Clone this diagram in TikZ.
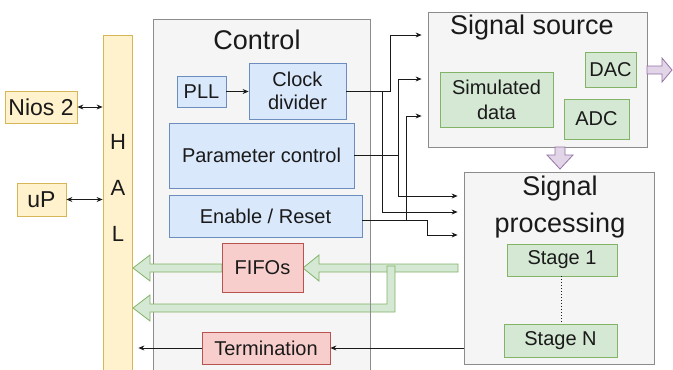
\documentclass[tikz,border=0pt]{standalone}
\usepackage{fontspec}
\setmainfont{Liberation Sans}
\usetikzlibrary{arrows.meta}
\definecolor{blueF}{HTML}{DAE8FC}\definecolor{blueD}{HTML}{6C8EBF}
\definecolor{greenF}{HTML}{D5E8D4}\definecolor{greenD}{HTML}{82B366}
\definecolor{redF}{HTML}{F8CECC}\definecolor{redD}{HTML}{B85450}
\definecolor{yelF}{HTML}{FFF2CC}\definecolor{yelD}{HTML}{D6B656}
\definecolor{grayF}{HTML}{F5F5F5}\definecolor{grayD}{HTML}{8C8C8C}
\definecolor{purF}{HTML}{E1D5E7}\definecolor{purD}{HTML}{9673A6}
\definecolor{ink}{HTML}{1A1A1A}
\tikzset{
  box/.style={draw, line width=0.8pt, inner sep=0pt, align=center, text=ink,
    font=\fontsize{20}{23}\selectfont},
  bluebox/.style={box, fill=blueF, draw=blueD},
  greenbox/.style={box, fill=greenF, draw=greenD},
  redbox/.style={box, fill=redF, draw=redD},
  yelbox/.style={box, fill=yelF, draw=yelD},
  container/.style={box, fill=grayF, draw=grayD},
  title/.style={text=ink, inner sep=0pt, align=center, font=\fontsize{27}{37}\selectfont},
  fatg/.style={fill=greenF, draw=greenD, line width=0.8pt, line join=miter},
  fatp/.style={fill=purF, draw=purD, line width=0.8pt, line join=miter},
  wire/.style={draw=ink, line width=0.8pt, -{Stealth[length=6pt,width=5pt]}},
  dwire/.style={draw=ink, line width=0.8pt, {Stealth[length=6pt,width=5pt]}-{Stealth[length=6pt,width=5pt]}},
}
\begin{document}
\begin{tikzpicture}[x=1pt, y=-1pt]
\useasboundingbox (0,0) rectangle (673,370);
\clip (0,0) rectangle (673,370);
\fill[white] (0,0) rectangle (673,370);

% containers
\node[container, minimum width=217pt, minimum height=361pt] (ctrl) at (261.5,199.5) {};
\node[title] (ctrlT) at (257,40) {Control};
\node[container, minimum width=219pt, minimum height=135pt] (src) at (537.5,79.5) {};
\node[title] (srcT) at (532,28) {Signal source};
\node[container, minimum width=190pt, minimum height=192pt] (proc) at (559,268) {};
\node[title] (procT) at (560,207) {Signal\\processing};

% HAL column
\node[yelbox, minimum width=29pt, minimum height=345pt] (hal) at (117.5,207.5) {};
\node[box, draw=none, font=\fontsize{22}{46}\selectfont] (halT) at (118,188) {H\\A\\L};

% host side
\node[yelbox, minimum width=72pt, minimum height=32pt, font=\fontsize{23}{26}\selectfont] (nios) at (41,107) {Nios 2};
\node[yelbox, minimum width=49pt, minimum height=33pt, font=\fontsize{23}{26}\selectfont] (up) at (41.5,199.5) {uP};
\draw[dwire] (nios.east) -- (nios.east -| hal.west);
\draw[dwire] (up.east) -- (up.east -| hal.west);

% wide data arrows
\coordinate (fifoIn) at (303,268);
\coordinate (halIn1) at (133,268);
\coordinate (halIn2) at (133,308);
\draw[fatg] (458,264) -- (319,264) -- (319,255) -- (fifoIn) -- (319,281) -- (319,272) -- (458,272) -- cycle;
\draw[fatg] (222,264) -- (150,264) -- (150,255) -- (halIn1) -- (150,281) -- (150,272) -- (222,272) -- cycle;
\draw[fatg] (387,266) -- (395,266) -- (395,312) -- (150,312) -- (150,321) -- (halIn2) -- (150,295) -- (150,304) -- (387,304) -- cycle;
\draw[grayD, line width=0.8pt] (ctrl.north east) -- (ctrl.south east);

\draw[fatp] (647,66) -- (662,66) -- (662,58) -- (672,70) -- (662,82) -- (662,74) -- (647,74) -- cycle;
\draw[fatp] (555,147) -- (555,155) -- (547,155) -- (560,169) -- (573,155) -- (565,155) -- (565,147) -- cycle;

% control blocks
\node[bluebox, minimum width=49pt, minimum height=31pt] (pll) at (201.5,91.5) {PLL};
\node[bluebox, minimum width=97pt, minimum height=56pt] (clk) at (297.5,91) {Clock\\divider};
\node[bluebox, minimum width=185pt, minimum height=65pt] (par) at (261.5,155.5) {Parameter control};
\node[bluebox, minimum width=193pt, minimum height=42pt] (en) at (265.5,216.5) {Enable / Reset};
\node[redbox, minimum width=81pt, minimum height=49pt] (fifo) at (262.5,267.5) {FIFOs};
\node[redbox, minimum width=128pt, minimum height=32pt] (term) at (266,348) {Termination};
\draw[wire] (pll.east) -- (clk.west |- pll.east);

% signal source blocks
\node[greenbox, minimum width=113pt, minimum height=55pt, font=\fontsize{20}{25}\selectfont] (sim) at (496.5,99.5) {Simulated\\data};
\node[greenbox, minimum width=51pt, minimum height=35pt] (dac) at (610.5,69.5) {DAC};
\node[greenbox, minimum width=65pt, minimum height=40pt] (adc) at (596.5,119) {ADC};

% processing stages
\node[greenbox, minimum width=110pt, minimum height=32pt] (st1) at (562,260) {Stage 1};
\node[greenbox, minimum width=113pt, minimum height=33pt] (stn) at (560.5,340.5) {Stage N};
\draw[ink, line width=1pt, dotted] (st1.south -| 561,0) -- (stn.north -| 561,0);

% control wiring
\coordinate (ya) at (0,35);
\coordinate (yb) at (0,79);
\coordinate (yc) at (0,116);
\coordinate (yd) at (0,196);
\coordinate (ye) at (0,212);
\coordinate (yf) at (0,235);
\draw[wire, shorten >=6pt] (clk.east) -- (390,91) |- (src.west |- ya);
\draw[wire, shorten >=6pt] (382,91) |- (proc.west |- ye);
\draw[wire, shorten >=6pt] (par.east) -- (398,155.5) |- (src.west |- yb);
\draw[wire, shorten >=6pt] (398,155.5) |- (proc.west |- yd);
\draw[wire, shorten >=6pt] (en.east |- 0,220) -- (427,220) |- (proc.west |- yf);
\draw[wire, shorten >=6pt] (406,220) |- (src.west |- yc);

% termination path
\draw[wire] (proc.west |- term.east) -- (term.east);
\draw[wire, shorten >=6pt] (term.west) -- (hal.east |- term.west);
\end{tikzpicture}
\end{document}
